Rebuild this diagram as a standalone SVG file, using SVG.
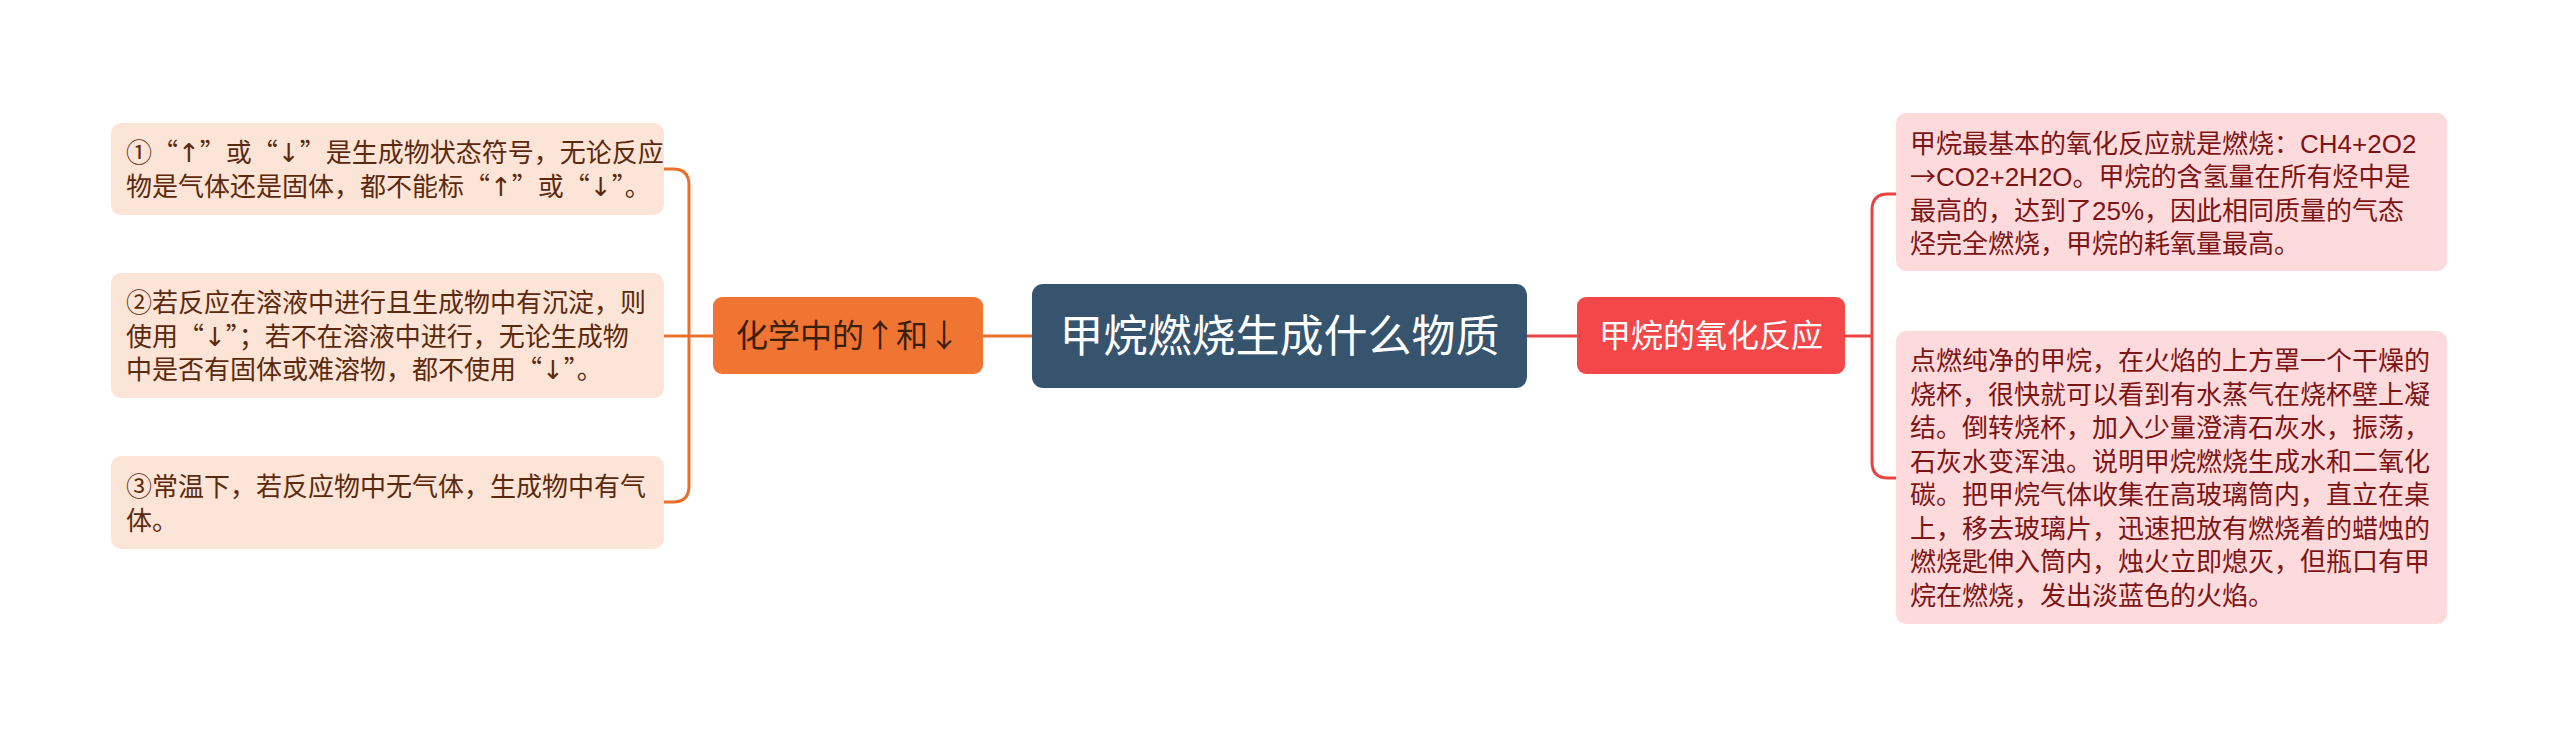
<svg xmlns="http://www.w3.org/2000/svg" width="2560" height="739" viewBox="0 0 2560 739">
<style>
.lt{font-family:"Noto Sans CJK SC",sans-serif;font-size:26px;fill:#5b2a0e}
.rt{font-family:"Liberation Sans","Noto Sans CJK SC",sans-serif;font-size:26px;fill:#7d1416}
.a{font-family:"DejaVu Sans",sans-serif}
.c{font-family:"Noto Sans CJK SC",sans-serif}
.lbox{fill:#fce4d6}
.rbox{fill:#fddadb}
.cl{fill:none;stroke:#e8702a;stroke-width:3}
.cr{fill:none;stroke:#e84444;stroke-width:3}
.mid{font-family:"Noto Sans CJK SC",sans-serif;font-size:32px;text-anchor:middle}
</style>
<rect width="2560" height="739" fill="#ffffff"/>
<g id="connectors">
<path class="cl" d="M983,336 H1032"/>
<path class="cr" d="M1527,336 H1577"/>
<path class="cl" d="M713,336 H689"/>
<path class="cl" d="M664,169 H673 Q689,169 689,185 V486 Q689,502 673,502 H664"/>
<path class="cl" d="M664,336 H689"/>
<path class="cr" d="M1845,336 H1872"/>
<path class="cr" d="M1896,194 H1888 Q1872,194 1872,210 V462 Q1872,478 1888,478 H1896"/>
</g>
<g id="center">
<rect x="1032" y="284" width="495" height="104" rx="11" fill="#37546f"/>
<text x="1279.5" y="352" font-family="Noto Sans CJK SC,sans-serif" font-size="44" fill="#ffffff" text-anchor="middle">甲烷燃烧生成什么物质</text>
</g>
<g id="branch-left">
<rect x="713" y="297" width="270" height="77" rx="9" fill="#f07432"/>
<text class="mid" x="848" y="347" fill="#3a1f0a">化学中的↑和↓</text>
</g>
<g id="branch-right">
<rect x="1577" y="297" width="268" height="77" rx="9" fill="#f4474a"/>
<text class="mid" x="1711" y="347" fill="#ffffff">甲烷的氧化反应</text>
</g>
<g id="left-1">
<rect class="lbox" x="111" y="123" width="553" height="92" rx="10"/>
<text class="lt" x="126" y="162">①“<tspan class="a">↑</tspan>”或“<tspan class="a">↓</tspan>”是生成物状态符号，无论反应</text>
<text class="lt" x="126" y="196">物是气体还是固体，都不能标“<tspan class="a">↑</tspan>”或“<tspan class="a">↓</tspan>”。</text>
</g>
<g id="left-2">
<rect class="lbox" x="111" y="273" width="553" height="125" rx="10"/>
<text class="lt" x="126" y="312">②若反应在溶液中进行且生成物中有沉淀，则</text>
<text class="lt" x="126" y="345.5">使用“<tspan class="a">↓</tspan>”；若不在溶液中进行，无论生成物</text>
<text class="lt" x="126" y="379">中是否有固体或难溶物，都不使用“<tspan class="a">↓</tspan>”。</text>
</g>
<g id="left-3">
<rect class="lbox" x="111" y="456" width="553" height="93" rx="10"/>
<text class="lt" x="126" y="496">③常温下，若反应物中无气体，生成物中有气</text>
<text class="lt" x="126" y="529.5">体。</text>
</g>
<g id="right-1">
<rect class="rbox" x="1896" y="113" width="551" height="158" rx="10"/>
<text class="rt" x="1910" y="152.5">甲烷最基本的氧化反应就是燃烧：CH4+2O2</text>
<text class="rt" x="1910" y="186"><tspan class="c">→</tspan>CO2+2H2O。甲烷的含氢量在所有烃中是</text>
<text class="rt" x="1910" y="219.5">最高的，达到了25%，因此相同质量的气态</text>
<text class="rt" x="1910" y="253">烃完全燃烧，甲烷的耗氧量最高。</text>
</g>
<g id="right-2">
<rect class="rbox" x="1896" y="331" width="551" height="293" rx="10"/>
<text class="rt" x="1910" y="370.25">点燃纯净的甲烷，在火焰的上方罩一个干燥的</text>
<text class="rt" x="1910" y="403.75">烧杯，很快就可以看到有水蒸气在烧杯壁上凝</text>
<text class="rt" x="1910" y="437.25">结。倒转烧杯，加入少量澄清石灰水，振荡，</text>
<text class="rt" x="1910" y="470.75">石灰水变浑浊。说明甲烷燃烧生成水和二氧化</text>
<text class="rt" x="1910" y="504.25">碳。把甲烷气体收集在高玻璃筒内，直立在桌</text>
<text class="rt" x="1910" y="537.75">上，移去玻璃片，迅速把放有燃烧着的蜡烛的</text>
<text class="rt" x="1910" y="571.25">燃烧匙伸入筒内，烛火立即熄灭，但瓶口有甲</text>
<text class="rt" x="1910" y="604.75">烷在燃烧，发出淡蓝色的火焰。</text>
</g>
</svg>
